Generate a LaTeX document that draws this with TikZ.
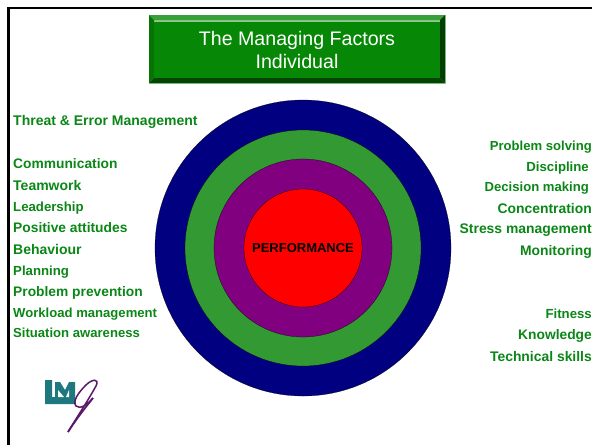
\documentclass[tikz,border=0pt]{standalone}
\usepackage{fontspec}
\setmainfont{Liberation Sans}
\usetikzlibrary{positioning}
\definecolor{labelgreen}{RGB}{10,135,22}
\definecolor{boxgreen}{RGB}{6,136,6}
\definecolor{ringblue}{RGB}{0,0,128}
\definecolor{ringgreen}{RGB}{51,153,51}
\definecolor{ringpurple}{RGB}{128,0,128}
\definecolor{logoteal}{RGB}{30,120,125}
\definecolor{logopurple}{RGB}{90,25,105}

\begin{document}
\begin{tikzpicture}[
	x=1pt, y=-1pt,
	ring/.style   = {circle, draw=black, very thin, inner sep=0pt},
	factor/.style = {font=\fontsize{\fsize}{15}\selectfont\bfseries, text=labelgreen, inner sep=0pt},
	lfactor/.style = {factor, anchor=base west},
	rfactor/.style = {factor, anchor=base east},
	title/.style  = {minimum width=286pt, minimum height=56pt, inner sep=0pt, align=center, text=white,
		font=\fontsize{19.6}{23}\selectfont}]

	\useasboundingbox (0,0) rectangle (592,445);
	\fill[white] (0,0) rectangle (592,445);

	% frame of the slide
	\draw[line width=2.5pt] (8.5,445) -- (8.5,8) -- (592,8);

	% title box with its bevel
	\fill[boxgreen!45!white] (148.5,14.5) rectangle (445.5,84);
	\fill[boxgreen!80!white] (149,15) -- (445,15) -- (440,20) -- (154,20) -- cycle;
	\fill[boxgreen!85!black] (149,15) -- (154,20) -- (154,78) -- (149,83) -- cycle;
	\fill[boxgreen!45!black] (445,15) -- (440,20) -- (440,78) -- (445,83) -- cycle;
	\fill[boxgreen!50!black] (149,83) -- (154,78) -- (440,78) -- (445,83) -- cycle;
	\node[title, fill=boxgreen] (head) at (297,50) {The Managing Factors\\Individual};

	% the rings, outer one first
	\node[ring, fill=ringblue, minimum size=296pt] (r1) at (303,248) {};
	\node[ring, fill=ringgreen, minimum size=236pt] (r2) at (r1.center) {};
	\node[ring, fill=ringpurple, minimum size=178pt] (r3) at (r1.center) {};
	\node[ring, fill=red, minimum size=118pt, font=\fontsize{13}{15}\selectfont\bfseries] (r4) at (r1.center) {PERFORMANCE};

	% left column
	\foreach \name/\ypos/\fsize/\val in {threat/125/14/Threat \& Error Management,
		comm/168/13.8/Communication, team/190/14/Teamwork, lead/211/13.2/Leadership,
		att/232/13.8/Positive attitudes, beh/254/14/Behaviour, plan/275/13.2/Planning,
		prev/296/13.8/Problem prevention, load/317/13.1/Workload management, aware/337/13.1/Situation awareness}
	\node[lfactor] (\name) at (13,\ypos) {\val};

	% right column
	\foreach \name/\xpos/\ypos/\fsize/\val in {solve/592/150/13.1/Problem solving, disc/589/171/13.2/Discipline,
		deci/589/191/13.1/Decision making, conc/592/213/13.9/Concentration, stress/592/233/13.9/Stress management,
		mon/592/255/13.9/Monitoring, fit/592/318/13.2/Fitness, know/592/339/13.8/Knowledge, tech/592/361/13.9/Technical skills}
	\node[rfactor] (\name) at (\xpos,\ypos) {\val};

	% logo
	\fill[logoteal] (45,380) -- (52,380) -- (52,397) -- (55,397) -- (55,382) -- (60,382) -- (65,390) -- (69,382) -- (75,382) -- (75,397) -- (76,404) -- (45,404) -- cycle;
	\fill[white] (58,397) -- (58,390) -- (64,397) -- cycle;
	\fill[white] (69,397) -- (69,390) -- (66,397) -- cycle;
	\draw[logopurple, line width=1.5pt] (68,432) .. controls (75,420) and (86,404) .. (96,386)
		.. controls (100,378) and (92,379) .. (86,385)
		.. controls (79,392) and (72,401) .. (76,406)
		.. controls (80,410) and (88,404) .. (93,398);
	\draw[logopurple, line width=1.8pt] (93,398) .. controls (85,408) and (77,418) .. (68,432);
\end{tikzpicture}
\end{document}
